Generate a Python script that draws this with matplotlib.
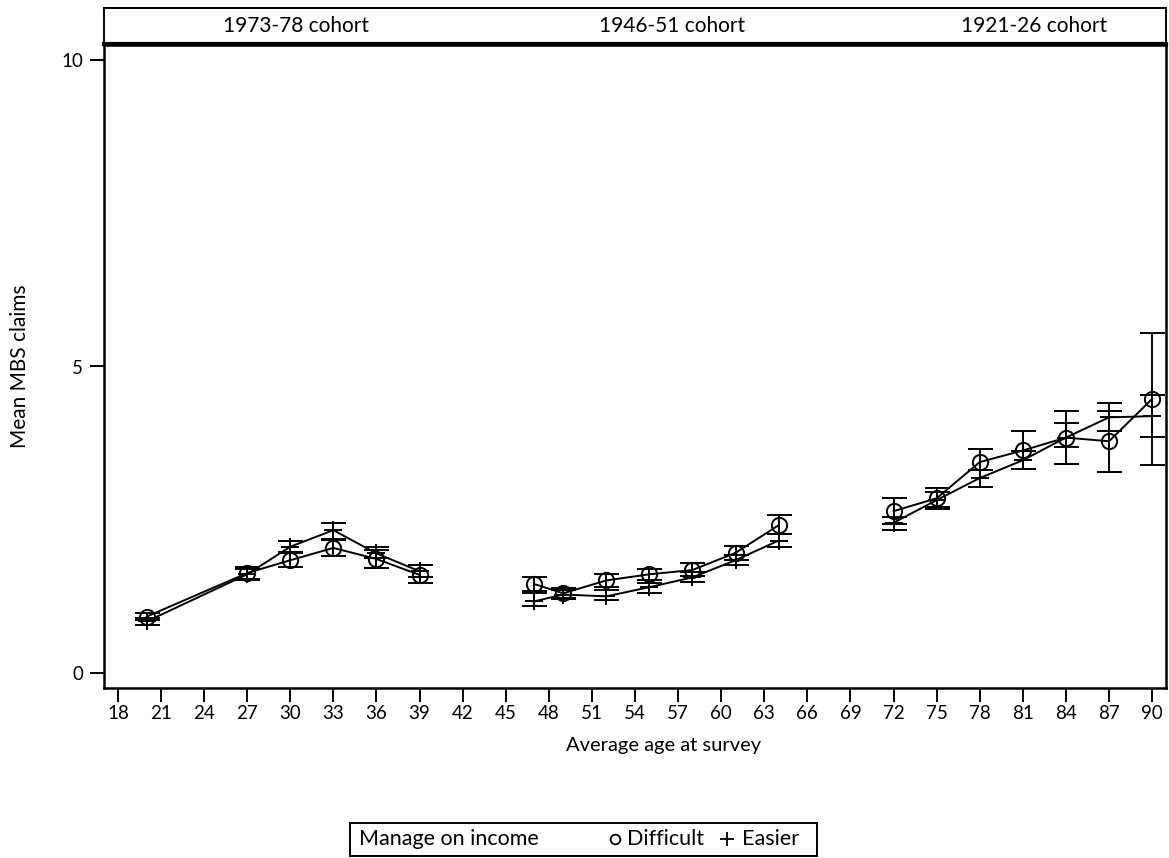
import matplotlib
matplotlib.use("Agg")
import matplotlib.pyplot as plt
from matplotlib.lines import Line2D
from matplotlib.patches import Rectangle
import numpy as np

plt.rcParams['font.family'] = ['Lato', 'DejaVu Sans']

# ---- data ----
cohort_labels = ["1973-78 cohort", "1946-51 cohort", "1921-26 cohort"]
ages = [[20, 27, 30, 33, 36, 39],
        [47, 49, 52, 55, 58, 61, 64],
        [72, 75, 78, 81, 84, 87, 90]]

diff_mean = [[0.92, 1.63, 1.84, 2.04, 1.86, 1.60],
             [1.45, 1.30, 1.51, 1.61, 1.68, 1.96, 2.41],
             [2.64, 2.85, 3.44, 3.63, 3.84, 3.78, 4.47]]
diff_lo = [[0.86, 1.53, 1.73, 1.91, 1.72, 1.46],
           [1.33, 1.22, 1.40, 1.52, 1.58, 1.85, 2.27],
           [2.43, 2.68, 3.31, 3.33, 3.41, 3.28, 3.39]]
diff_hi = [[0.98, 1.73, 1.96, 2.17, 2.00, 1.76],
           [1.57, 1.38, 1.61, 1.69, 1.79, 2.07, 2.57],
           [2.85, 3.01, 3.65, 3.94, 4.28, 4.41, 5.55]]

easy_mean = [[0.84, 1.61, 2.06, 2.33, 1.95, 1.66],
             [1.17, 1.28, 1.25, 1.40, 1.56, 1.84, 2.16],
             [2.45, 2.82, 3.18, 3.47, 3.84, 4.17, 4.19]]
easy_lo = [[0.78, 1.52, 1.97, 2.18, 1.87, 1.56],
           [1.09, 1.21, 1.19, 1.30, 1.48, 1.76, 2.06],
           [2.33, 2.70, 3.04, 3.33, 3.68, 3.94, 3.85]]
easy_hi = [[0.90, 1.70, 2.16, 2.44, 2.05, 1.76],
           [1.30, 1.36, 1.35, 1.47, 1.64, 1.93, 2.27],
           [2.55, 2.95, 3.31, 3.62, 4.08, 4.28, 4.53]]

x_ticks = list(range(18, 91, 3))
y_ticks = [0, 5, 10]
legend_title = "Manage on income"
legend_labels = ["Difficult", "Easier"]

# ---- figure ----
W, H = 1169, 858
fig = plt.figure(figsize=(W / 100, H / 100), dpi=100)
ax = fig.add_axes([104 / W, 1 - 688 / H, (1166 - 104) / W, (688 - 45) / H])

lw = 1.4
for i in range(3):
    x = np.array(ages[i])
    dm = np.array(diff_mean[i]); em = np.array(easy_mean[i])
    ax.errorbar(x, dm, yerr=[dm - np.array(diff_lo[i]), np.array(diff_hi[i]) - dm],
                fmt='-o', color='black', mfc='none', mec='black', ms=11, mew=1.4,
                lw=lw, elinewidth=lw, capsize=9, capthick=lw)
    ax.errorbar(x, em, yerr=[em - np.array(easy_lo[i]), np.array(easy_hi[i]) - em],
                fmt='-+', color='black', ms=13, mew=1.4,
                lw=lw, elinewidth=lw, capsize=9, capthick=lw)

ax.set_xlim(17.03, 90.97)
ax.set_ylim(-0.245, 10.245)
ax.set_xticks(x_ticks)
ax.set_yticks(y_ticks)
ax.tick_params(axis='x', direction='out', length=10, width=1.4, labelsize=13.5, pad=2)
ax.tick_params(axis='y', direction='out', length=10, width=1.4, labelsize=13.5, pad=5)
for s in ax.spines.values():
    s.set_linewidth(1.8)
ax.set_xlabel("Average age at survey", fontsize=14.5)
ax.set_ylabel("Mean MBS claims", fontsize=15)
ax.xaxis.set_label_coords((664 - 104) / (1166 - 104), 1 - (745 - 45) / (688 - 45))
ax.yaxis.set_label_coords((20 - 104) / (1166 - 104), 0.5)
ax.xaxis.label.set_va('center')
ax.yaxis.label.set_va('center')

# ---- strip ----
sax = fig.add_axes([104 / W, 1 - 44 / H, (1166 - 104) / W, 36 / H])
sax.set_xticks([]); sax.set_yticks([])
for s in sax.spines.values():
    s.set_linewidth(1.4)
sax.spines['bottom'].set_linewidth(3)
strip_x = [296, 672, 1034]
for lab, px in zip(cohort_labels, strip_x):
    sax.text((px - 104) / (1166 - 104), 0.5, lab, ha='center', va='center', fontsize=15,
             transform=sax.transAxes)

# ---- legend (drawn manually in figure pixels) ----
def fx(px):
    return px / W

def fy(py):
    return 1 - py / H

fig.patches.append(Rectangle((fx(350), fy(856)), (817 - 350) / W, 33 / H,
                             transform=fig.transFigure, fill=False, lw=1.4, ec='black'))
ly = 839
fig.text(fx(359), fy(ly), legend_title, fontsize=15.5, va='center', ha='left')
fig.add_artist(Line2D([fx(615)], [fy(ly)], ls='none', marker='o', mfc='none', mec='black',
                      ms=7, mew=1.3, transform=fig.transFigure))
fig.text(fx(627), fy(ly), legend_labels[0], fontsize=15.5, va='center', ha='left')
fig.add_artist(Line2D([fx(727)], [fy(ly)], ls='none', marker='+', color='black',
                      ms=10, mew=1.3, transform=fig.transFigure))
fig.text(fx(742), fy(ly), legend_labels[1], fontsize=15.5, va='center', ha='left')

fig.savefig("out.png", dpi=100)
